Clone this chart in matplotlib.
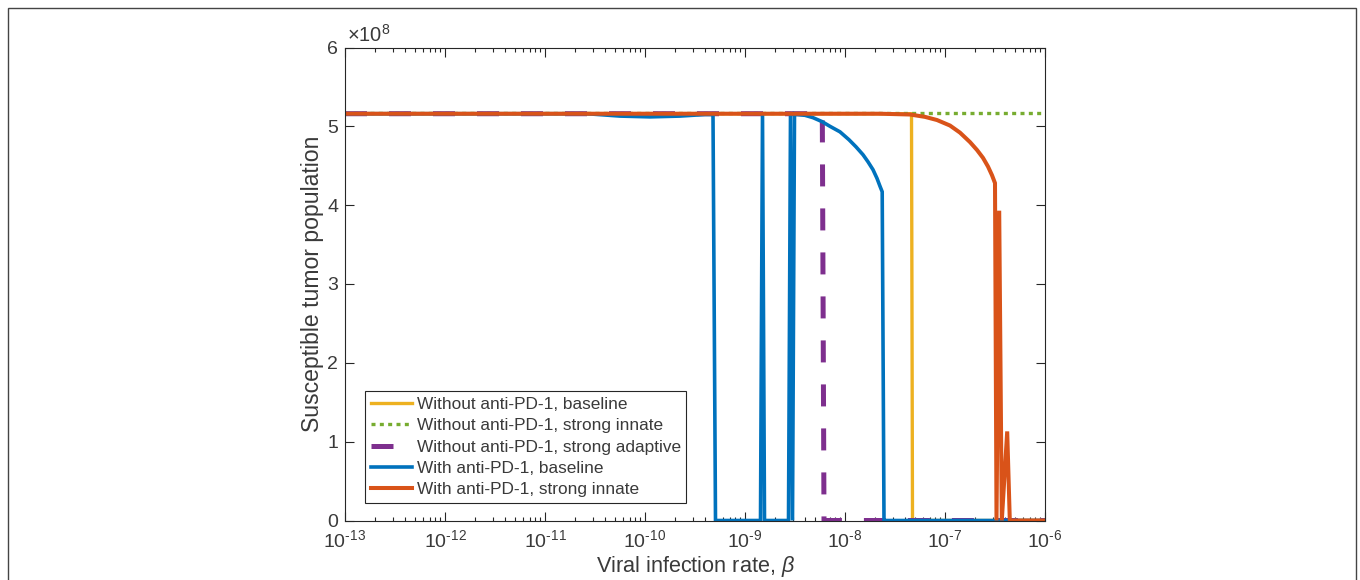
import numpy as np
import matplotlib
matplotlib.use("Agg")
import matplotlib.pyplot as plt
from matplotlib.patches import Rectangle

plt.rcParams['font.family'] = ['Liberation Sans', 'DejaVu Sans']
plt.rcParams['mathtext.fontset'] = 'custom'
plt.rcParams['mathtext.rm'] = 'Liberation Sans'
plt.rcParams['mathtext.it'] = 'Liberation Sans:italic'

# ---------------- data (log10 of beta, S in units of 1e8) ----------------
yellow_logbeta = [-13.0, -7.335, -7.325, -6.0]
yellow_S = [5.16, 5.16, 0.0, 0.0]

green_logbeta = [-13.0, -6.0]
green_S = [5.17, 5.17]

purple_logbeta = [-13.0, -8.227, -8.21, -6.0]
purple_S = [5.16, 5.16, 0.0, 0.0]

blue_logbeta = [-13.0, -10.58, -10.25, -9.95, -9.65, -9.40, -9.32, -9.295,
                -8.845, -8.825, -8.805, -8.565, -8.545, -8.525, -8.505,
                -8.48, -8.40, -8.32, -8.23, -8.15, -8.05, -7.96, -7.89,
                -7.82, -7.77, -7.72, -7.68, -7.65, -7.628, -7.61, -6.0]
blue_S = [5.16, 5.16, 5.13, 5.12, 5.13, 5.15, 5.15, 0.0,
          0.0, 5.16, 0.0, 0.0, 5.16, 0.0, 5.16,
          5.15, 5.14, 5.11, 5.06, 5.00, 4.93, 4.83, 4.74,
          4.64, 4.55, 4.45, 4.34, 4.24, 4.17, 0.0, 0.0]

orange_logbeta = [-13.0, -7.65, -7.35, -7.20, -7.08, -6.95, -6.85, -6.75,
                  -6.68, -6.62, -6.57, -6.53, -6.50,
                  -6.485, -6.458, -6.432, -6.378, -6.352, -6.0]
orange_S = [5.16, 5.16, 5.15, 5.12, 5.08, 5.01, 4.92, 4.80,
            4.70, 4.60, 4.49, 4.38, 4.28,
            0.0, 3.93, 0.0, 1.13, 0.0, 0.0]

labels = ['Without anti-PD-1, baseline',
          'Without anti-PD-1, strong innate',
          'Without anti-PD-1, strong adaptive',
          'With anti-PD-1, baseline',
          'With anti-PD-1, strong innate']

xtick_exponents = [-13, -12, -11, -10, -9, -8, -7, -6]
ytick_values = [0, 1, 2, 3, 4, 5, 6]
scale = 1e8

# ---------------- figure ----------------
fig = plt.figure(figsize=(13.6, 5.8), dpi=100)
ax = fig.add_axes([345/1360, (580-520.5)/580, 700/1360, 473/580])

txtc = '#3a3a3a'
axc = '#262626'

def b(v):
    return 10.0 ** np.asarray(v)

def s(v):
    return np.asarray(v) * scale

ax.plot(b(yellow_logbeta), s(yellow_S), color='#EDB120', lw=2.4,
        label=labels[0], solid_joinstyle='miter')
ax.plot(b(green_logbeta), s(green_S), color='#77AC30', lw=2.4,
        linestyle=(0, (1.2, 1.3)), dash_capstyle='butt', label=labels[1])
ax.plot(b(purple_logbeta), s(purple_S), color='#7E2F8E', lw=3.6,
        linestyle=(0, (4.4, 4.4)), dash_capstyle='butt', label=labels[2])
ax.plot(b(blue_logbeta), s(blue_S), color='#0072BD', lw=2.6,
        label=labels[3], solid_joinstyle='miter')
ax.plot(b(orange_logbeta), s(orange_S), color='#D95319', lw=2.9,
        label=labels[4], solid_joinstyle='miter')

ax.set_xscale('log')
ax.set_xlim(10.0**xtick_exponents[0], 10.0**xtick_exponents[-1])
ax.set_ylim(ytick_values[0]*scale, ytick_values[-1]*scale)

ax.set_xticks([10.0**e for e in xtick_exponents])
ax.set_xticklabels([r'$10^{\text{-}%d}$' % (-e) for e in xtick_exponents])
ax.set_yticks([v*scale for v in ytick_values])
ax.set_yticklabels([str(v) for v in ytick_values])

ax.tick_params(which='both', direction='in', top=True, right=True,
               colors=axc, labelcolor=txtc, width=0.8)
ax.tick_params(which='major', length=6.5, labelsize=14.0, pad=5)
ax.tick_params(which='minor', length=3)
ax.tick_params(axis='x', which='major', pad=6)
for sp in ax.spines.values():
    sp.set_color(axc)
    sp.set_linewidth(0.8)

ax.text(0.003, 1.004, r'$\times10^{8}$', transform=ax.transAxes,
        ha='left', va='bottom', fontsize=14.5, color=txtc)

ax.set_ylabel('Susceptible tumor population', fontsize=16.6, color=txtc,
              labelpad=2)
ax.set_xlabel(r'Viral infection rate, $\beta$', fontsize=15.6, color=txtc,
              labelpad=2.5)

leg = ax.legend(loc='lower left', bbox_to_anchor=(20/700, 17.5/472),
                borderaxespad=0, fontsize=12.4, handlelength=2.38,
                handletextpad=0.3, labelspacing=0.37, borderpad=0.32,
                fancybox=False, framealpha=1, edgecolor=axc)
leg.get_frame().set_linewidth(0.8)
for t in leg.get_texts():
    t.set_color(txtc)

# outer frame
fig.patches.append(Rectangle((8/1360, -0.2), (1355.5-8)/1360, 0.2 + (580-8)/580,
                             transform=fig.transFigure, fill=False,
                             edgecolor='#444444', lw=1.0, clip_on=False))

fig.savefig('out.png', dpi=100)
